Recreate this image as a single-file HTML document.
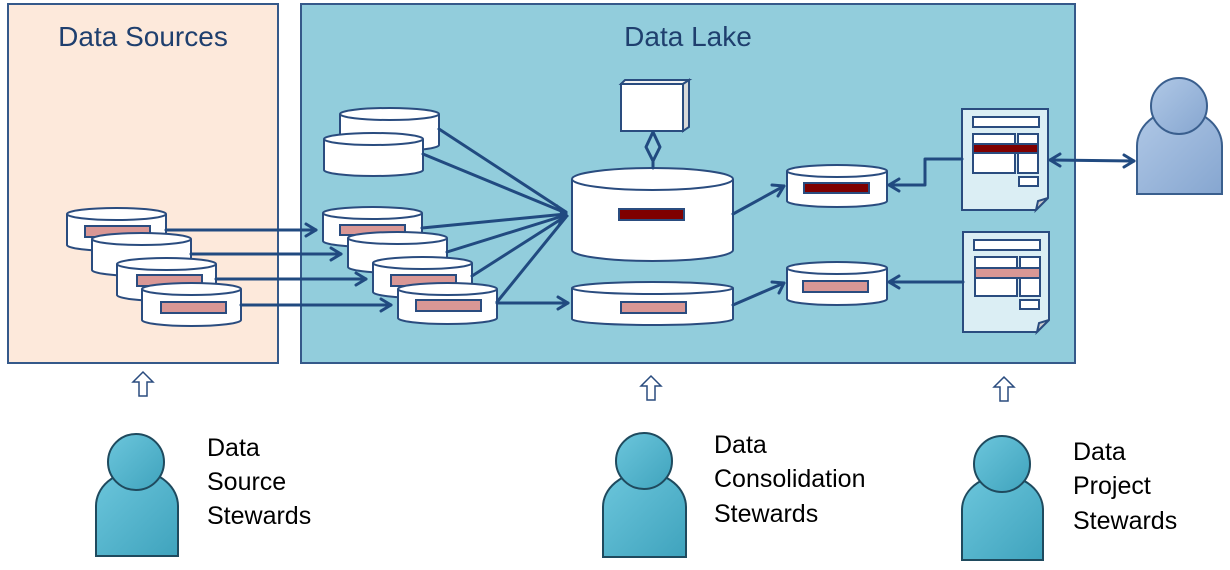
<!DOCTYPE html>
<html><head><meta charset="utf-8"><style>
html,body{margin:0;padding:0;background:#fff;}
svg{display:block;}
text{font-family:"Liberation Sans","DejaVu Sans",sans-serif;}
</style></head><body>
<svg width="1230" height="570" viewBox="0 0 1230 570" xmlns="http://www.w3.org/2000/svg">
<defs>
<linearGradient id="teal" x1="0" y1="0" x2="1" y2="1"><stop offset="0" stop-color="#6cc6dc"/><stop offset="1" stop-color="#3fa3bd"/></linearGradient>
<linearGradient id="blu" x1="0" y1="0" x2="1" y2="1"><stop offset="0" stop-color="#b0c8e6"/><stop offset="1" stop-color="#86a6d0"/></linearGradient>
</defs>
<rect x="8" y="4" width="270" height="359" fill="#fde9db" stroke="#35598a" stroke-width="2"/>
<rect x="301" y="4" width="774" height="359" fill="#92cddc" stroke="#35598a" stroke-width="2"/>
<text x="143" y="46" font-size="28" fill="#1f3f6e" text-anchor="middle">Data Sources</text>
<text x="688" y="46" font-size="28" fill="#1f3f6e" text-anchor="middle">Data Lake</text>

<g stroke="#2a4c7f" stroke-width="2" fill="#fff">
<path d="M67,214 v31 a49.5,6 0 0 0 99,0 v-31"/><ellipse cx="116.5" cy="214" rx="49.5" ry="6"/>
<rect x="85" y="226" width="65" height="11" fill="#d99795"/>
<path d="M92,239 v31 a49.5,6 0 0 0 99,0 v-31"/><ellipse cx="141.5" cy="239" rx="49.5" ry="6"/>
<path d="M117,264 v31 a49.5,6 0 0 0 99,0 v-31"/><ellipse cx="166.5" cy="264" rx="49.5" ry="6"/>
<rect x="137" y="275" width="65" height="11" fill="#d99795"/>
<path d="M142,289 v31 a49.5,6 0 0 0 99,0 v-31"/><ellipse cx="191.5" cy="289" rx="49.5" ry="6"/>
<rect x="161" y="302" width="65" height="11" fill="#d99795"/>

<path d="M340,114 v31 a49.5,6 0 0 0 99,0 v-31"/><ellipse cx="389.5" cy="114" rx="49.5" ry="6"/>
<path d="M324,139 v31 a49.5,6 0 0 0 99,0 v-31"/><ellipse cx="373.5" cy="139" rx="49.5" ry="6"/>
<path d="M323,213 v28 a49.5,6 0 0 0 99,0 v-28"/><ellipse cx="372.5" cy="213" rx="49.5" ry="6"/>
<rect x="340" y="225" width="65" height="10" fill="#d99795"/>
<path d="M348,238 v29 a49.5,6 0 0 0 99,0 v-29"/><ellipse cx="397.5" cy="238" rx="49.5" ry="6"/>
<path d="M373,263 v29 a49.5,6 0 0 0 99,0 v-29"/><ellipse cx="422.5" cy="263" rx="49.5" ry="6"/>
<rect x="391" y="275" width="65" height="11" fill="#d99795"/>
<path d="M398,289 v29 a49.5,6 0 0 0 99,0 v-29"/><ellipse cx="447.5" cy="289" rx="49.5" ry="6"/>
<rect x="416" y="300" width="65" height="11" fill="#d99795"/>

<path d="M572,179 v71 a80.5,11 0 0 0 161,0 v-71"/><ellipse cx="652.5" cy="179" rx="80.5" ry="11"/>
<rect x="619" y="209" width="65" height="11" fill="#7f0000"/>
<path d="M572,288 v31 a80.5,6 0 0 0 161,0 v-31"/><ellipse cx="652.5" cy="288" rx="80.5" ry="6"/>
<rect x="621" y="302" width="65" height="11" fill="#d99795"/>
<path d="M621,84 l4,-4 h64 l-6,4 z" fill="#f2f2f2"/>
<path d="M683,84 l6,-4 v47 l-6,4 z" fill="#d9d9d9"/>
<rect x="621" y="84" width="62" height="47"/>
<path d="M787,171 v30 a50,6 0 0 0 100,0 v-30"/><ellipse cx="837" cy="171" rx="50" ry="6"/>
<rect x="804" y="183" width="65" height="10" fill="#7f0000"/>
<path d="M787,268 v31 a50,6 0 0 0 100,0 v-31"/><ellipse cx="837" cy="268" rx="50" ry="6"/>
<rect x="803" y="281" width="65" height="11" fill="#d99795"/>
</g>

<g stroke="#2a4c7f" stroke-width="2">
<path d="M962,109 h86 v89 l-12,12 h-74 z" fill="#dbeef4"/>
<path d="M1036,210 l2,-9 l10,-3 z" fill="#ccc"/>
<rect x="973" y="117" width="66" height="10" fill="#fff"/>
<rect x="973" y="134" width="42" height="39" fill="#fff"/>
<rect x="1018" y="134" width="20" height="39" fill="#fff"/>
<rect x="973" y="144" width="65" height="9" fill="#7f0000"/>
<rect x="1019" y="177" width="19" height="9" fill="#fff"/>
<path d="M963,232 h86 v88 l-12,12 h-74 z" fill="#dbeef4"/>
<path d="M1037,332 l2,-9 l10,-3 z" fill="#ccc"/>
<rect x="974" y="240" width="66" height="10" fill="#fff"/>
<rect x="975" y="257" width="42" height="39" fill="#fff"/>
<rect x="1020" y="257" width="20" height="39" fill="#fff"/>
<rect x="975" y="268" width="65" height="10" fill="#d99795"/>
<rect x="1020" y="300" width="19" height="9" fill="#fff"/>
</g>

<g stroke="#214a80" stroke-width="3" fill="none" stroke-linecap="round" stroke-linejoin="round">
<line x1="166" y1="230" x2="316" y2="230"/><path d="M306,224 l10,6 l-10,6"/>
<line x1="191" y1="254" x2="341" y2="254"/><path d="M331,248 l10,6 l-10,6"/>
<line x1="216" y1="279" x2="366" y2="279"/><path d="M356,273 l10,6 l-10,6"/>
<line x1="241" y1="305" x2="391" y2="305"/><path d="M381,299 l10,6 l-10,6"/>
<line x1="439" y1="129" x2="566" y2="212"/>
<line x1="423" y1="154" x2="566" y2="213"/>
<line x1="422" y1="228" x2="566" y2="214"/>
<line x1="447" y1="252" x2="566" y2="215"/>
<line x1="472" y1="276" x2="566" y2="216"/>
<line x1="497" y1="302" x2="566" y2="217"/>
<line x1="497" y1="303" x2="568" y2="303"/><path d="M558,297 l10,6 l-10,6"/>
<line x1="733" y1="214" x2="784" y2="186"/><path d="M772,185 l12,1 l-6,10"/>
<line x1="733" y1="305" x2="784" y2="283"/><path d="M772,282 l12,1 l-5,10"/>
<path d="M962,159 h-37 v26 h-36"/><path d="M899,179 l-10,6 l10,6"/>
<line x1="963" y1="282" x2="889" y2="282"/><path d="M899,276 l-10,6 l10,6"/>
<line x1="1050" y1="160" x2="1134" y2="161"/><path d="M1060,154 l-10,6 l10,6"/><path d="M1124,155 l10,6 l-10,6"/>
<path d="M653,132 l-7,15 l7,14 l7,-14 z"/><line x1="653" y1="161" x2="653" y2="168"/>
</g>
<path d="M557,204 l12,12 l-12,11 l4,-11 z" fill="#214a80"/>

<g fill="#fff" stroke="#2a4c7f" stroke-width="1.5">
<path d="M143,372 l-10,10 h6 v14 h8 v-14 h6 z"/>
<path d="M651,376 l-10,10 h6 v14 h8 v-14 h6 z"/>
<path d="M1004,377 l-10,10 h6 v14 h8 v-14 h6 z"/>
</g>

<g stroke="#1f4a5e" stroke-width="2" fill="url(#teal)">
<path d="M96,556 v-50 a40,34 0 0 1 82,0 v50 z"/><circle cx="136" cy="462" r="28"/>
<path d="M603,557 v-50 a41,34 0 0 1 83,0 v50 z"/><circle cx="644" cy="461" r="28"/>
<path d="M962,560 v-50 a40,34 0 0 1 81,0 v50 z"/><circle cx="1002" cy="464" r="28"/>
</g>
<g stroke="#3a5f8e" stroke-width="2" fill="url(#blu)">
<path d="M1137,194 v-48 a42,36 0 0 1 85,0 v48 z"/><circle cx="1179" cy="106" r="28"/>
</g>

<g font-size="25" fill="#000">
<text x="207" y="456">Data</text><text x="207" y="490">Source</text><text x="207" y="524">Stewards</text>
<text x="714" y="453">Data</text><text x="714" y="487">Consolidation</text><text x="714" y="522">Stewards</text>
<text x="1073" y="460">Data</text><text x="1073" y="494">Project</text><text x="1073" y="529">Stewards</text>
</g>
</svg>
</body></html>
